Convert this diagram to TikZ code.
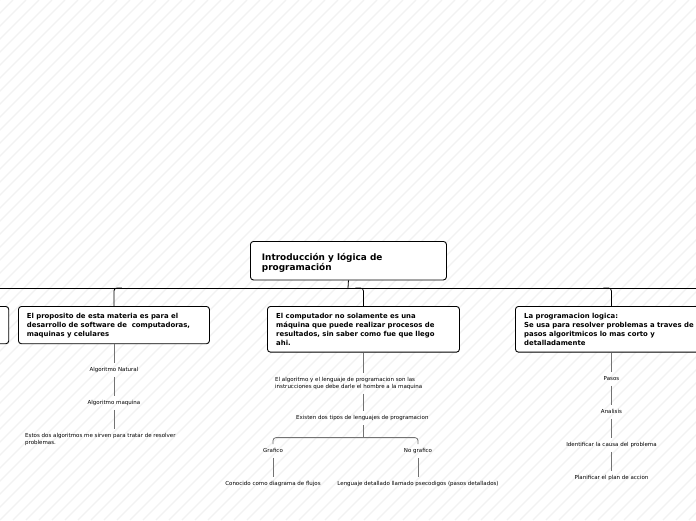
\documentclass[tikz,border=0pt]{standalone}
\usepackage{fontspec}
\setmainfont{DejaVu Sans}
\usetikzlibrary{calc}
\begin{document}
\begin{tikzpicture}[x=1pt,y=-1pt,
  box/.style={draw=black, line width=0.9pt, fill=white, rounded corners=3pt, inner sep=0pt, anchor=north west},
  maintext/.style={font=\fontsize{8.9}{10.7}\selectfont\bfseries, align=left, inner sep=0pt, anchor=base west},
  btext/.style={font=\fontsize{6.9}{8.7}\selectfont\bfseries, align=left, inner sep=0pt, anchor=base west},
  leaf/.style={font=\fontsize{5.5}{7}\selectfont, inner xsep=0pt, inner ysep=4pt, text height=4.2pt, text depth=1.3pt},
  mleaf/.style={font=\fontsize{5.5}{7}\selectfont, align=left, inner xsep=0pt, inner ysep=4pt, anchor=north west},
  conn/.style={draw=black, line width=0.8pt},
  lconn/.style={draw=black!55, line width=0.8pt},
  stripe/.style={draw=black!5, line width=1.3pt}
]
\useasboundingbox (0,0) rectangle (696,520);
\fill[white] (0,0) rectangle (696,520);
\begin{scope}
  \clip (0,0) rectangle (696,520);
  \foreach \k in {-520,-507,...,700} \draw[stripe] (\k,520) -- ({\k+520},0);
\end{scope}

% top level (text anchors are at the baseline of the last line)
\node[box, minimum width=196pt, minimum height=38.5pt] (main) at (250,241) {};
\node[maintext] (maint) at (261.7,270.7) {Introducción y lógica de\\programación};

\node[box, minimum width=190pt, minimum height=37.3pt] (b1) at (-181.7,306) {};
\node[box, minimum width=191pt, minimum height=37.3pt] (b2) at (18,306) {};
\node[btext] (b2t) at (26.7,336.3) {El proposito de esta materia es para el\\desarrollo de software de\ \ computadoras,\\maquinas y celulares};
\node[box, minimum width=192pt, minimum height=45.7pt] (b3) at (267,306) {};
\node[btext] (b3t) at (276,345) {El computador no solamente es una\\máquina que puede realizar procesos de\\resultados, sin saber como fue que llego\\ahi.};
\node[box, minimum width=192pt, minimum height=45.7pt] (b4) at (515,306) {};
\node[btext] (b4t) at (524,345) {La programacion logica:\\Se usa para resolver problemas a traves de\\pasos algoritmicos lo mas corto y\\detalladamente};

\coordinate (hub) at (348,288);
\coordinate (hl) at (-10,288);
\coordinate (hr) at (706,288);
\draw[conn] (main.south) -- (hub);
\draw[conn] (hl) -- (hr);
\draw[conn, rounded corners=3pt] ($(b1.north |- hub)+(-8,0)$) -- (b1.north |- hub) -- (b1.north);
\draw[conn, rounded corners=3pt] ($(b2.north |- hub)+(8,0)$) -- (b2.north |- hub) -- (b2.north);
\draw[conn, rounded corners=3pt] ($(b3.north |- hub)+(-8,0)$) -- (b3.north |- hub) -- (b3.north);
\draw[conn, rounded corners=3pt] ($(b4.north |- hub)+(-8,0)$) -- (b4.north |- hub) -- (b4.north);

% box 2 branch
\node[leaf] (n21) at (b2.south |- 0,370) {Algoritmo Natural};
\node[leaf] (n22) at (b2.south |- 0,403) {Algoritmo maquina};
\node[mleaf] (n23) at (25,429.4) {Estos dos algoritmos me sirven para tratar de resolver\\problemas.};
\draw[lconn] (b2.south) -- (n21.north);
\draw[lconn] (n21.south) -- (n22.north);
\draw[lconn] (n22.south) -- (n22.south |- n23.north);

% box 3 branch
\node[mleaf] (n31) at (275,372.8) {El algoritmo y el lenguaje de programacion son las\\instrucciones que debe darle el hombre a la maquina};
\node[leaf, anchor=west] (n32) at (296,418.3) {Existen dos tipos de lenguajes de programacion};
\coordinate (bar) at ($(b3.south)+(0,85)$);
\node[leaf] (n33) at (273,451) {Grafico};
\node[leaf] (n34) at (418,451) {No grafico};
\node[leaf] (n35) at (273,484) {Conocido como diagrama de flujos};
\node[leaf] (n36) at (418,484) {Lenguaje detallado llamado psecodigos (pasos detallados)};
\draw[lconn] (b3.south) -- (b3.south |- n31.north);
\draw[lconn] (b3.south |- n31.south) -- (b3.south |- n32.north);
\draw[lconn] (b3.south |- n32.south) -- (bar);
\draw[lconn, rounded corners=3pt] (n33.north) -- (n33.north |- bar) -- (n34.north |- bar) -- (n34.north);
\draw[lconn] (n33.south) -- (n35.north);
\draw[lconn] (n34.south) -- (n36.north);

% box 4 branch
\node[leaf] (n41) at (b4.south |- 0,379) {Pasos};
\node[leaf] (n42) at (b4.south |- 0,412) {Analisis};
\node[leaf] (n43) at (b4.south |- 0,445) {Identificar la causa del problema};
\node[leaf] (n44) at (b4.south |- 0,478) {Planificar el plan de accion};
\draw[lconn] (b4.south) -- (n41.north);
\draw[lconn] (n41.south) -- (n42.north);
\draw[lconn] (n42.south) -- (n43.north);
\draw[lconn] (n43.south) -- (n44.north);
\end{tikzpicture}
\end{document}
